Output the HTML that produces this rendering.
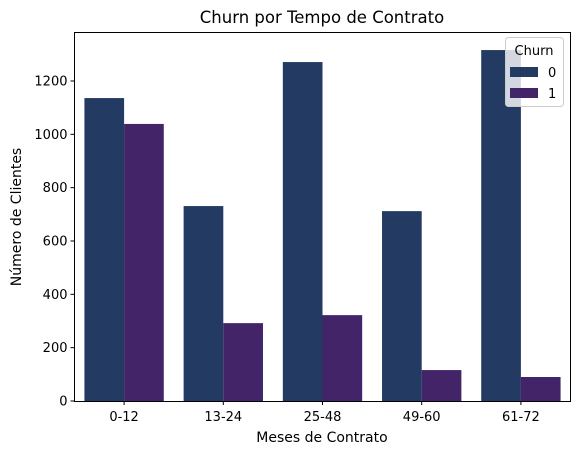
<!DOCTYPE html>
<html><head><meta charset="utf-8"><style>
body{margin:0;background:#fff}
svg text{font-family:"DejaVu Sans","Liberation Sans",sans-serif;fill:#000}
</style></head><body>
<svg id="chart" width="580" height="455" xmlns="http://www.w3.org/2000/svg">
<text x="322" y="23" font-size="16.5" text-anchor="middle">Churn por Tempo de Contrato</text>
<g id="bars"></g>
<rect x="74.5" y="32.5" width="496" height="369" fill="none" stroke="#000" stroke-width="1"/>
<g id="axes"></g>
<text x="322" y="442" font-size="14" text-anchor="middle">Meses de Contrato</text>
<text transform="translate(21,217) rotate(-90)" font-size="14" text-anchor="middle">Número de Clientes</text>
<g>
<rect x="505.5" y="37.5" width="58" height="69" rx="3" fill="#fff" fill-opacity="0.8" stroke="#ccc"/>
<text x="534" y="55" font-size="13" text-anchor="middle">Churn</text>
<rect x="510" y="67" width="28" height="10" fill="#233a62"/>
<text x="548" y="77" font-size="13">0</text>
<rect x="510" y="88" width="28" height="10" fill="#432468"/>
<text x="548" y="98" font-size="13">1</text>
</g>
</svg>
<script>
const categories=["0-12","13-24","25-48","49-60","61-72"];
const churn0=[1136,731,1271,712,1316];
const churn1=[1039,292,322,116,90];
const yTicks=[0,200,400,600,800,1000,1200];
const NS="http://www.w3.org/2000/svg";
const L=74.5,R=570.5,B=401,pxPer=(401-81)/1200;
const step=(R-L)/categories.length;
const y=v=>B-v*pxPer;
const xc=i=>L+step*(i+0.5);
const bw=step*0.4;
const bars=document.getElementById('bars'),axes=document.getElementById('axes');
function mk(t,a,p){const e=document.createElementNS(NS,t);for(const k in a)e.setAttribute(k,a[k]);p.appendChild(e);return e;}
categories.forEach((c,i)=>{
 const r0=mk('rect',{x:xc(i)-bw,y:y(churn0[i]),width:bw,height:churn0[i]*pxPer,fill:'#233a62'},bars);
 
 
 const r1=mk('rect',{x:xc(i),y:y(churn1[i]),width:bw,height:churn1[i]*pxPer,fill:'#432468'},bars);
 
 
 mk('line',{x1:xc(i),x2:xc(i),y1:B+0.5,y2:B+4,stroke:'#000'},axes);
 const t=mk('text',{x:xc(i),y:B+20,'font-size':13,'text-anchor':'middle'},axes);
 t.textContent=c;
 
 
});
yTicks.forEach(v=>{
 mk('line',{x1:L-4,x2:L,y1:y(v),y2:y(v),stroke:'#000'},axes);
 const t=mk('text',{x:L-7,y:y(v)+4.5,'font-size':13,'text-anchor':'end'},axes);
 t.textContent=v;
 
 
});
</script>
</body></html>
